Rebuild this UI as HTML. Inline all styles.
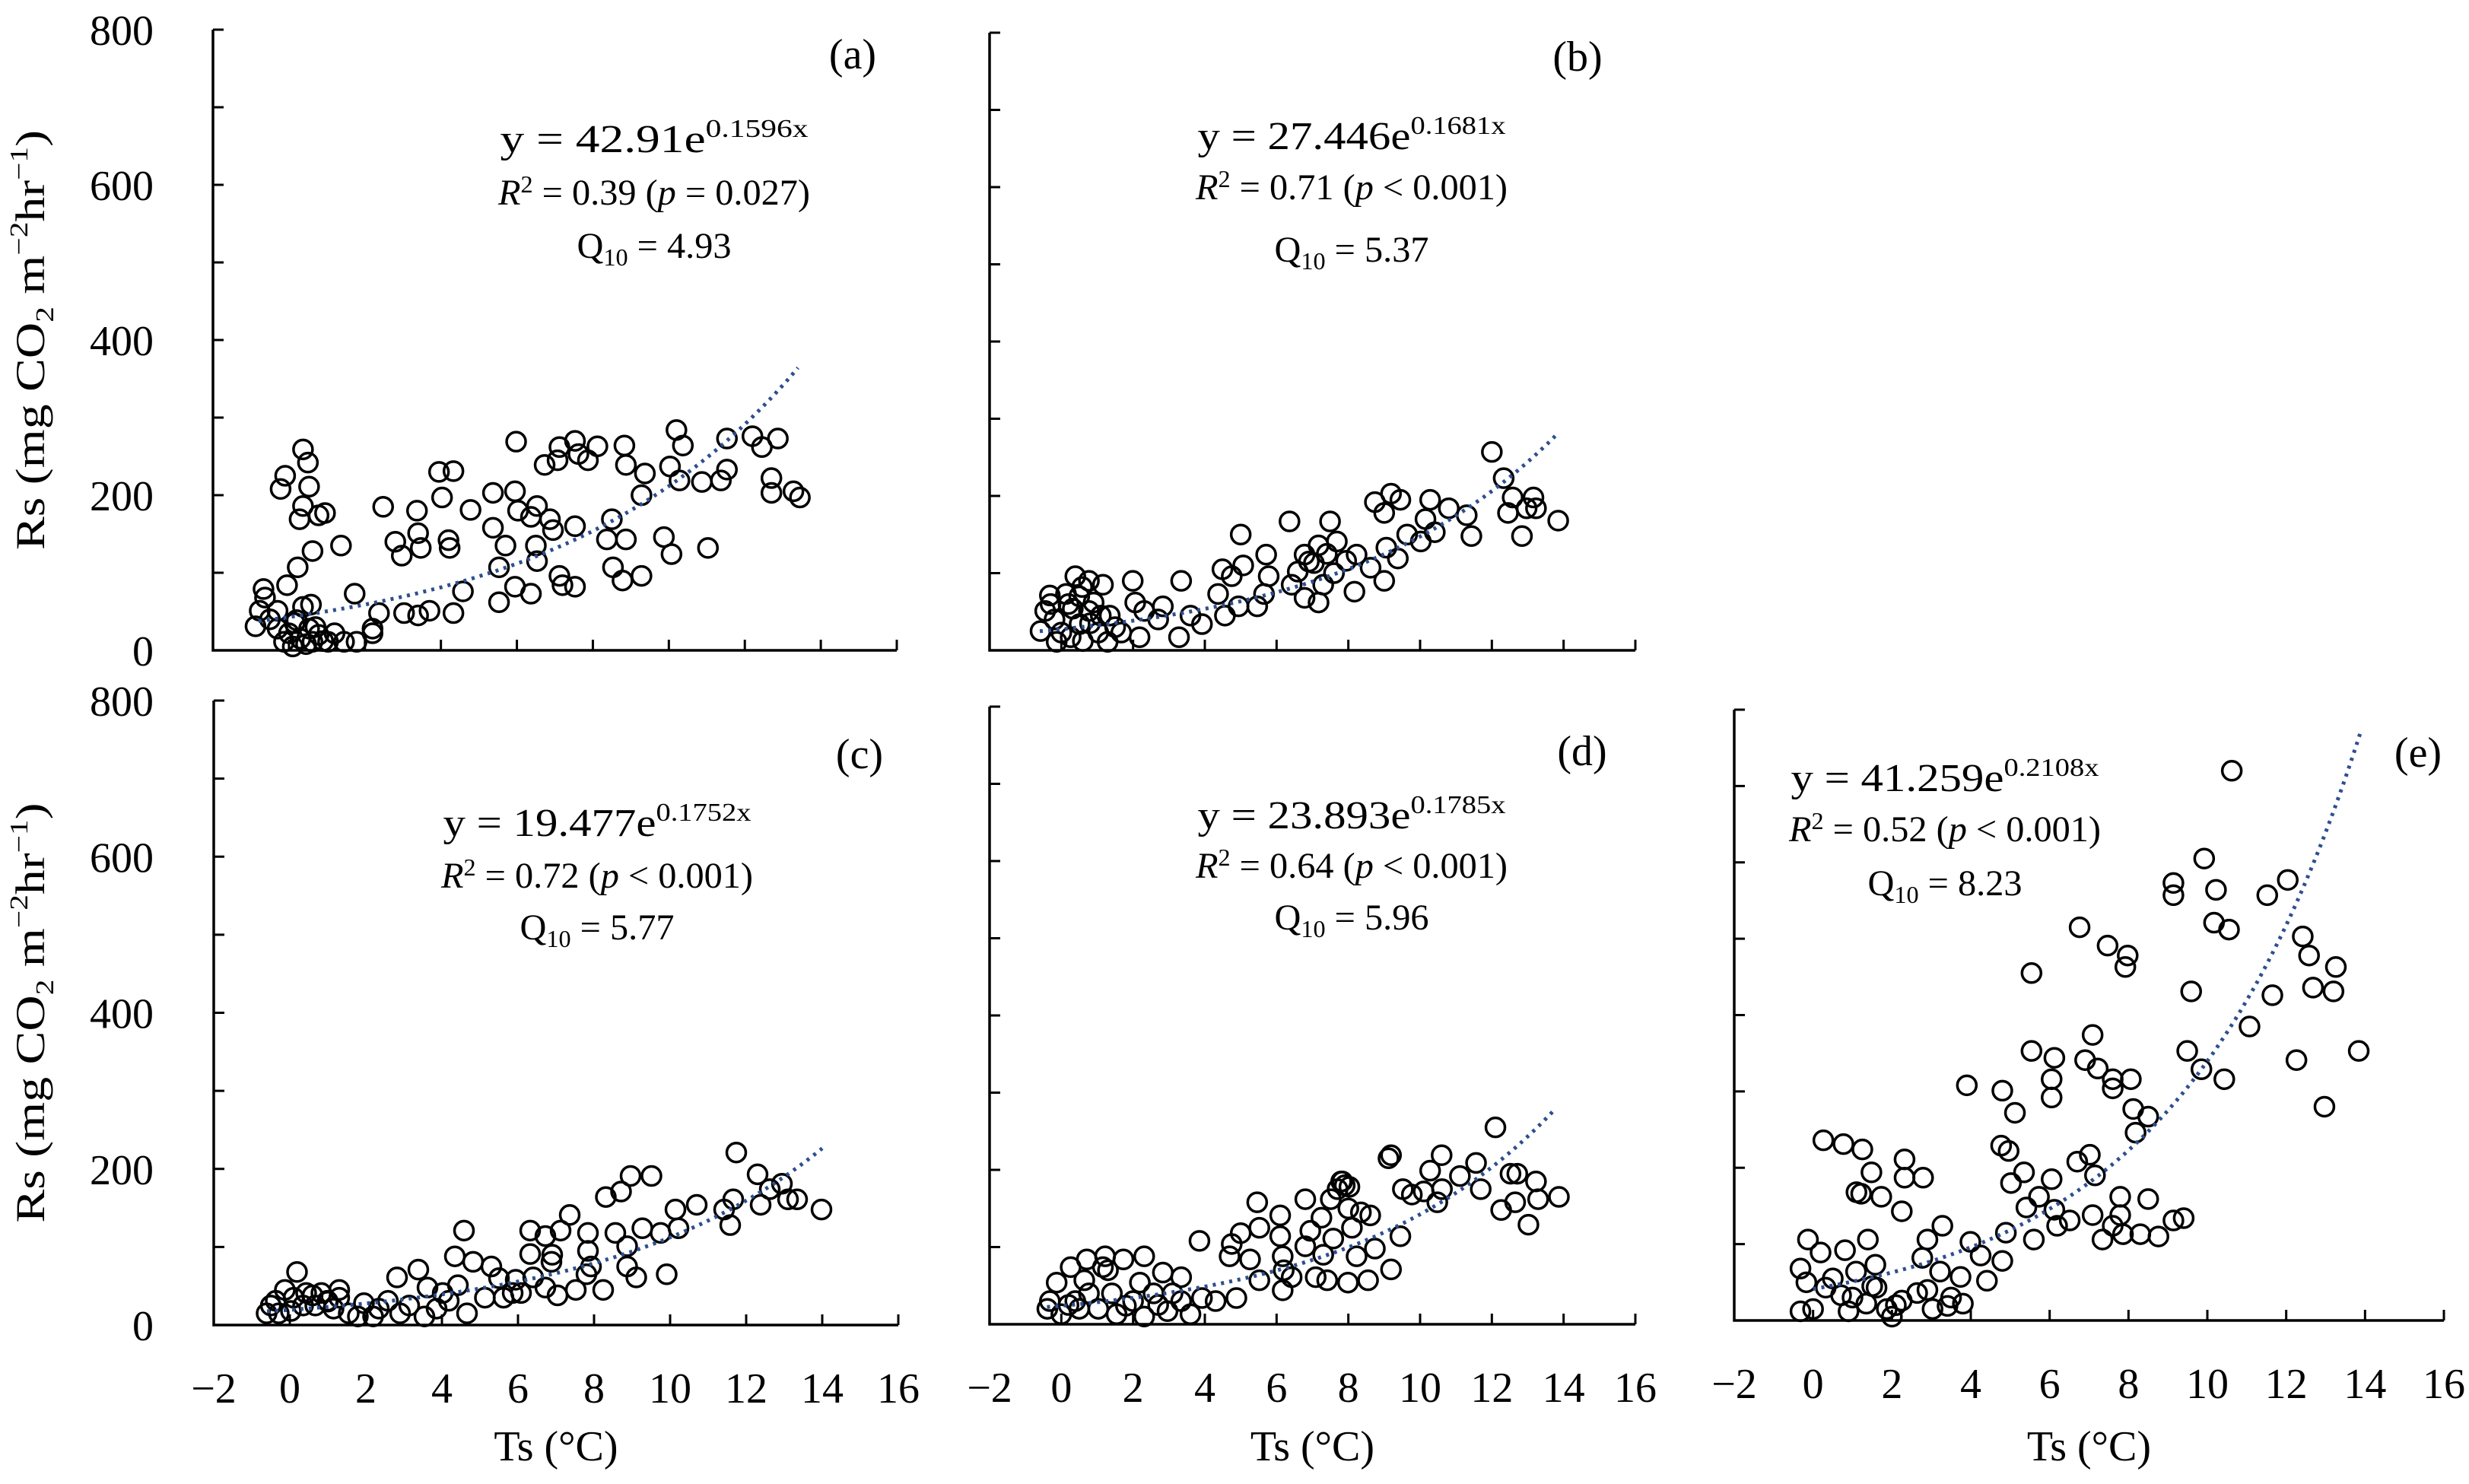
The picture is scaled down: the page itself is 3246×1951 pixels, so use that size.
<!DOCTYPE html>
<html><head><meta charset="utf-8"><style>
html,body{margin:0;padding:0;background:#fff;}
svg{display:block;font-family:"Liberation Serif",serif;}
</style></head><body>
<svg id="fig" width="3246" height="1951" viewBox="0 0 3246 1951" xmlns="http://www.w3.org/2000/svg"></svg>
<script>
const xTicks=[-2,0,2,4,6,8,10,12,14,16];
const xTickLabels=["\u22122","0","2","4","6","8","10","12","14","16"];
const yTicks=[0,100,200,300,400,500,600,700,800];
const yTickLabels=["0","","200","","400","","600","","800"];
const panelIds=["a","b","c","d","e"];
const coefA=[42.91,27.446,19.477,23.893,41.259];
const coefB=[0.1596,0.1681,0.1752,0.1785,0.2108];
const trendFrom=[-0.8,-0.6,-0.6,-0.4,0];
const trendTo=[13.4,13.85,14,13.75,13.9];
const eqText=["42.91","27.446","19.477","23.893","41.259"];
const expText=["0.1596x","0.1681x","0.1752x","0.1785x","0.2108x"];
const r2Text=["0.39","0.71","0.72","0.64","0.52"];
const pText=["= 0.027","< 0.001","< 0.001","< 0.001","< 0.001"];
const q10Text=["4.93","5.37","5.77","5.96","8.23"];

const tsA=[2.48,2.8,2.97,3.37,3.4,3.47,3.95,4.33,4.03,4.2,4.23,4.78,1.37,1.73,2.37,2.2,3.03,3.4,3.7,4.33,4.58,5.37,5.37,5.7,5.53,5.53,5.98,5.95,6.03,6.37,6.53,6.5,6.53,5.95,6.37,6.87,6.95,6.73,7.07,7.12,7.53,7.53,7.62,7.87,8.12,7.12,7.2,7.53,8.37,8.5,8.87,8.83,8.87,8.53,8.78,9.28,9.37,9.28,9.87,10.07,10.03,10.2,10.37,10.28,10.87,11.03,11.37,11.53,11.53,12.2,12.45,12.87,12.7,12.7,13.28,13.45,-0.88,-0.77,-0.67,-0.63,-0.3,-0.13,0,0.2,0.37,0.53,0.62,0.78,1.03,1.45,1.78,2.2,-0.05,0.23,0.62,0.58,-0.3,-0.22,-0.1,0.37,0.5,0.53,0.37,0.28,0.95,0.78,0.1,0.3,0.45,-0.5,0.15,0.7,0.9,1.2];
const rsA=[185,140,122,180,151,132,230,231,197,142,132,181,135,73,48,28,48,45,51,48,76,158,203,135,107,62,269,205,180,172,186,135,115,82,73,169,155,239,245,262,270,160,253,245,263,96,84,82,143,169,143,264,239,107,90,96,228,200,146,124,237,284,264,219,217,132,219,233,273,276,262,273,222,203,205,197,31,51,79,68,28,11,22,39,56,28,11,20,11,11,11,22,84,107,128,59,51,208,225,259,242,211,186,169,177,174,5,15,8,40,35,30,12,22];

const tsB=[12.0,12.33,12.58,13.16,12.45,12.97,13.23,13.85,12.84,11.43,11.3,10.8,10.28,10.15,10.41,10.02,9.64,8.74,9.19,9.0,9.45,9.06,9.38,9.0,8.62,8.17,8.23,7.94,7.68,7.49,7.17,7.04,6.78,6.59,7.3,7.17,6.78,6.36,6.42,5.71,5.78,5.46,5.65,5.0,5.07,4.75,4.49,4.37,4.94,4.56,3.92,3.6,3.34,3.28,2.83,2.7,2.31,2.06,1.99,2.18,1.67,1.35,1.16,0.77,0.39,0.58,0.13,-0.32,-0.45,-0.58,-0.19,0,0.26,0.51,0.77,1.03,1.29,-0.13,0.9,0.32,0.5,0.2,0.8,1.5,-0.3,0.6,1.1,7.4,7.6,6.9];
const rsB=[257,223,198,198,178,184,184,168,148,148,175,184,195,170,153,141,150,192,203,178,195,133,119,90,107,76,124,116,141,167,136,113,124,102,85,62,68,167,85,124,96,57,73,150,110,96,105,73,57,45,34,45,90,17,57,40,51,62,90,17,23,45,85,90,96,82,73,71,51,25,40,23,17,34,51,23,11,11,62,54,70,60,35,30,60,12,45,125,100,115];

const tsC=[11.74,12.3,12.38,12.62,12.94,13.1,13.34,13.98,11.66,11.58,11.42,10.7,10.14,10.22,9.75,9.91,9.51,8.96,8.71,8.31,9.27,8.87,9.11,8.56,8.87,7.84,7.84,7.92,8.24,7.52,7.04,7.36,7.12,6.72,6.32,6.32,6.88,6.4,5.94,5.62,5.3,4.82,4.58,4.34,4.42,4.66,5.13,4.02,3.62,3.38,2.82,2.58,2.9,3.54,1.95,1.79,2.19,1.3,0.99,0.67,0.19,-0.13,-0.37,-0.61,-0.29,0.03,0.35,0.43,0.83,1.15,1.55,2.34,3.14,3.86,4.18,5.86,6.72,6.08,0.1,0.6,1.0,1.3,-0.5,5.5,6.9,7.8];
const rsC=[221,193,154,174,181,161,161,148,161,128,148,154,148,124,118,65,191,191,171,164,124,101,61,118,75,118,95,75,45,45,38,141,121,114,121,91,81,61,58,35,75,81,121,88,51,15,35,41,48,71,61,31,15,11,28,11,11,45,31,25,68,45,31,15,15,18,25,41,41,21,15,21,25,21,31,41,48,41,35,38,30,35,25,60,90,65];

const tsD=[12.1,10.6,9.12,9.19,11.56,11.11,10.28,11.69,12.52,12.71,13.23,13.87,13.29,12.65,12.26,13.02,10.48,10.61,9.52,9.77,10.1,7.83,7.7,8.03,7.51,6.8,7.25,8.35,8.61,6.94,7.58,8.1,8.23,8.74,9.45,9.19,8.55,7.99,7.41,7.09,6.8,5.46,6.1,6.1,6.17,5.52,5.0,4.75,4.69,5.26,5.52,6.17,6.42,4.88,3.85,3.92,4.3,3.34,2.83,2.31,1.73,1.22,1.16,0.71,0.26,-0.13,-0.32,-0.39,0,0.39,0.77,1.03,1.41,1.8,2.19,2.57,2.96,3.34,3.6,0.64,1.54,2.31,0.2,0.5,1.3,2.0,2.7,3.1,7.8,7.9,8.0,7.3,6.2];
const rsD=[255,219,215,219,209,192,199,175,195,195,185,165,162,158,148,129,158,175,175,168,172,185,175,178,162,162,138,145,141,121,111,125,88,98,114,71,57,54,57,61,101,158,141,114,88,125,118,104,88,84,57,44,61,34,108,34,30,61,67,88,84,88,74,84,74,54,30,20,13,30,40,20,40,24,54,40,17,30,13,57,13,10,25,20,70,30,25,40,185,180,150,90,70];

const tsE=[10.62,9.92,9.14,9.14,10.22,12.04,11.52,10.17,10.55,6.76,7.47,7.98,7.92,5.54,9.59,11.65,12.42,12.58,12.68,13.26,13.2,11.07,13.84,12.26,12.97,9.49,9.85,10.43,7.09,6.9,7.22,7.6,8.06,7.6,5.54,6.12,6.05,6.05,3.9,4.8,5.12,8.12,8.5,8.18,4.77,4.96,5.02,5.35,6.7,7.02,7.15,6.05,5.73,5.41,6.12,6.19,6.51,7.09,7.79,8.5,7.79,7.6,7.34,7.86,8.3,8.76,9.14,9.4,5.6,4.89,4.8,4.41,3.99,4.25,3.74,3.28,2.9,2.77,2.32,2.32,2.79,2.25,0.26,0.77,1.25,1.48,1.1,1.22,1.73,-0.13,0.81,1.39,1.58,-0.32,-0.17,0.19,0.32,0.71,1.09,1.35,1.61,1.87,2.0,2.25,2.64,3.03,3.41,3.8,3.22,0,-0.32,0.9,0.5,1.0,1.5,2.1,2.9,3.5];
const rsE=[720,605,573,557,564,577,557,521,512,515,491,478,463,455,431,426,503,478,436,463,431,385,353,341,280,353,329,316,374,341,330,316,316,304,353,344,316,292,308,301,272,277,267,246,229,222,180,194,208,217,190,185,162,148,145,124,131,138,162,159,138,124,106,113,113,110,131,134,106,115,78,52,103,85,57,124,106,82,211,187,187,143,236,231,224,194,168,166,162,106,92,106,73,68,50,89,43,33,64,22,43,15,5,26,36,15,19,22,64,15,12,12,55,30,45,20,40,30];

const tsData=[tsA,tsB,tsC,tsD,tsE];
const rsData=[rsA,rsB,rsC,rsD,rsE];

const L=[
 {x0:280,x1:1179,yt:39,yb:855,ylab:true,xlab:false,eq:[860,200,269,339],let:[1121,90]},
 {x0:1301,x1:2150,yt:43,yb:855,ylab:false,xlab:false,eq:[1777,196,262,344],let:[2074,93]},
 {x0:281,x1:1181,yt:921,yb:1742,ylab:true,xlab:true,eq:[785,1099,1167,1235],let:[1130,1010]},
 {x0:1301,x1:2150,yt:929,yb:1741,ylab:false,xlab:true,eq:[1777,1089,1154,1222],let:[2080,1006]},
 {x0:2280,x1:3213,yt:933,yb:1736,ylab:false,xlab:true,eq:[2557,1040,1106,1177],let:[3179,1008]}
];
const NS="http://www.w3.org/2000/svg";
const svg=document.getElementById('fig');
function mk(tag,attrs,parent){const e=document.createElementNS(NS,tag);for(const k in attrs)e.setAttribute(k,attrs[k]);(parent||svg).appendChild(e);return e;}

panelIds.forEach((pid,i)=>{
 const c=L[i];
 const sx=v=>c.x0+(v-(-2))/(16-(-2))*(c.x1-c.x0);
 const sy=v=>c.yb-v/800*(c.yb-c.yt);
 const g=mk('g',{});
 
 
 const ax=mk('path',{d:`M${c.x0},${c.yt} V${c.yb} H${c.x1}`,fill:'none',stroke:'#000','stroke-width':3.5},g);
 
 
 yTicks.forEach((t,k)=>{
  const tk=mk('line',{x1:c.x0,x2:c.x0+14,y1:sy(t),y2:sy(t),stroke:'#000','stroke-width':3},g);
  
  
  if(c.ylab&&yTickLabels[k]){
   const tl=mk('text',{x:202,y:sy(t)+20,'text-anchor':'end','font-size':56},g);
   tl.textContent=yTickLabels[k];
   
   
  }
 });
 xTicks.forEach((t,k)=>{
  const tk=mk('line',{x1:sx(t),x2:sx(t),y1:c.yb,y2:c.yb-14,stroke:'#000','stroke-width':3},g);
  
  
  if(c.xlab){
   const tl=mk('text',{x:sx(t),y:c.yb+102,'text-anchor':'middle','font-size':56},g);
   tl.textContent=xTickLabels[k];
   
   
  }
 });
 if(c.xlab){
  const xt=mk('text',{x:(c.x0+c.x1)/2,y:1920,'text-anchor':'middle','font-size':56},g);
  xt.textContent='Ts (\u00B0C)';
  
  
 }
 if(c.ylab){
  const cy=(c.yt+c.yb)/2;
  const yt=mk('text',{x:0,y:0,'text-anchor':'middle','font-size':54,textLength:552,lengthAdjust:'spacingAndGlyphs',transform:`translate(58,${cy}) rotate(-90)`},g);
  yt.innerHTML='Rs (mg CO<tspan font-size="34" dy="12">2</tspan><tspan dy="-12"> m</tspan><tspan font-size="34" dy="-22">\u22122</tspan><tspan dy="22">hr</tspan><tspan font-size="34" dy="-22">\u22121</tspan><tspan dy="22">)</tspan>';
  
  
 }
 const xs=tsData[i], ys=rsData[i];
 for(let k=0;k<xs.length;k++){
  const p=mk('circle',{cx:sx(xs[k]),cy:sy(ys[k]),r:12.5,fill:'none',stroke:'#000','stroke-width':3.5},g);
  
  
 }
 let d='';
 for(let s=0;s<=100;s++){const x=trendFrom[i]+(trendTo[i]-trendFrom[i])*s/100;const y=coefA[i]*Math.exp(coefB[i]*x);d+=(s?'L':'M')+sx(x).toFixed(1)+','+sy(y).toFixed(1);}
 const tr=mk('path',{d:d,fill:'none',stroke:'#2d4f8e','stroke-width':5,'stroke-dasharray':'4 7'},g);
 
 
 const e=c.eq;
 const t1=mk('text',{x:e[0],y:e[1],'text-anchor':'middle','font-size':52,textLength:405,lengthAdjust:'spacingAndGlyphs'},g);
 t1.innerHTML=`y = ${eqText[i]}e<tspan font-size="34" dy="-20">${expText[i]}</tspan>`;
 
 
 const t2=mk('text',{x:e[0],y:e[2],'text-anchor':'middle','font-size':48,textLength:410,lengthAdjust:'spacingAndGlyphs'},g);
 t2.innerHTML=`<tspan font-style="italic">R</tspan><tspan font-size="32" dy="-16">2</tspan><tspan dy="16"> = ${r2Text[i]} (</tspan><tspan font-style="italic">p</tspan><tspan> ${pText[i]})</tspan>`;
 
 
 const t3=mk('text',{x:e[0],y:e[3],'text-anchor':'middle','font-size':48,textLength:203,lengthAdjust:'spacingAndGlyphs'},g);
 t3.innerHTML=`Q<tspan font-size="32" dy="10">10</tspan><tspan dy="-10"> = ${q10Text[i]}</tspan>`;
 
 
 const pl=mk('text',{x:c.let[0],y:c.let[1],'text-anchor':'middle','font-size':56},g);
 pl.textContent='('+pid+')';
 
 
});
</script>
</body></html>
